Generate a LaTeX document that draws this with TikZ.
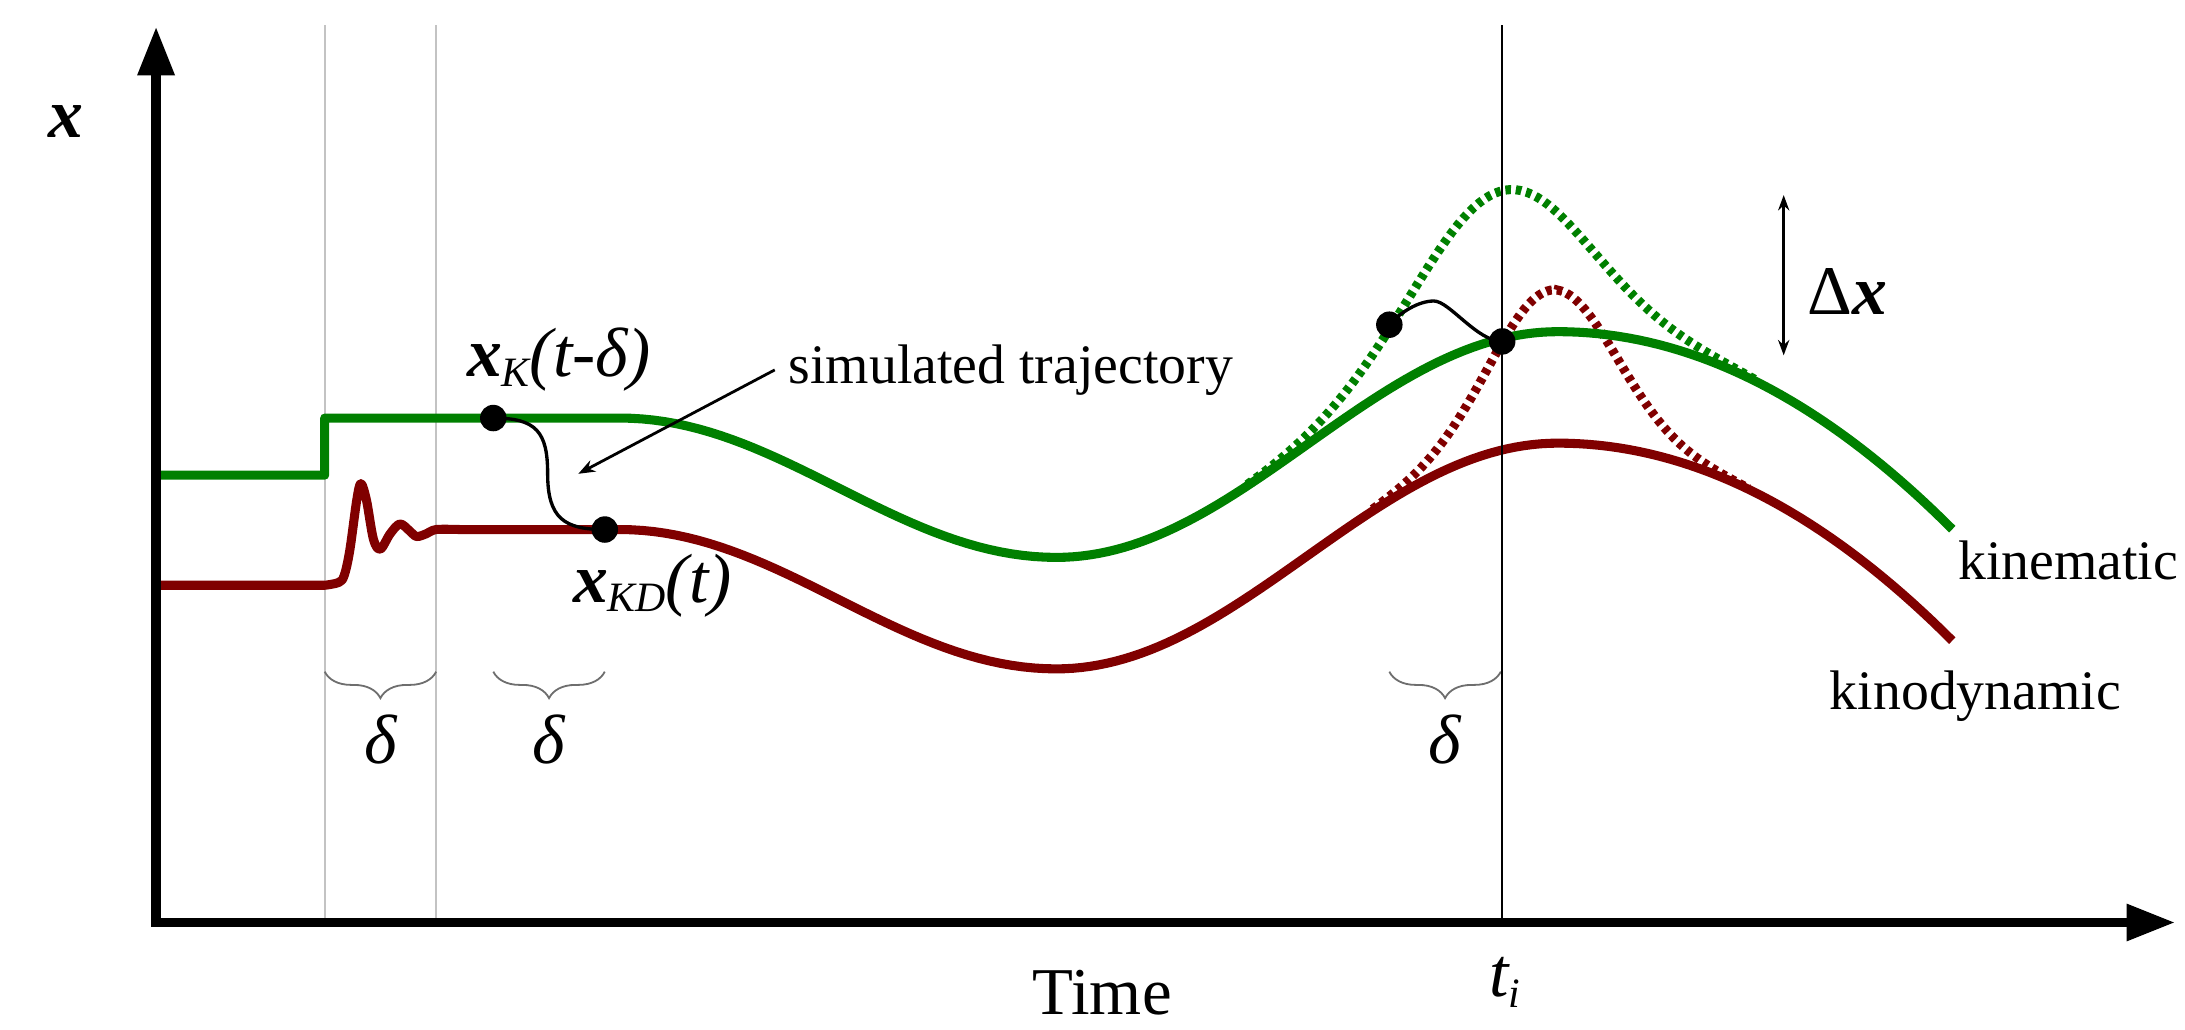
\documentclass[tikz,border=0pt]{standalone}
\usepackage{fontspec}
\setmainfont{Liberation Serif}
\usetikzlibrary{arrows.meta,decorations.pathreplacing,calc}
\definecolor{kgreen}{RGB}{0,128,0}
\definecolor{kred}{RGB}{128,0,0}
\definecolor{guide}{RGB}{195,195,195}
\definecolor{bracegray}{RGB}{110,110,110}
\begin{document}
\begin{tikzpicture}[x=1pt,y=-1pt,
  curve/.style={line width=6.5pt, line join=round},
  dotcurve/.style={line width=6.5pt, dash pattern=on 4pt off 3.5pt},
  simpath/.style={line width=2.4pt, black},
  dot/.style={circle, fill=black, inner sep=0pt, minimum size=19pt},
  guideline/.style={line width=1.5pt, guide},
  bracestyle/.style={line width=1.3pt, bracegray, decorate, decoration={brace, mirror, amplitude=19pt}},
  axis/.style={line width=7pt, line join=miter, {Triangle[length=35pt,width=25pt]}-{Triangle[length=35pt,width=25pt]}},
  txt/.style={inner sep=0pt, font=\fontsize{40}{48}\selectfont},
  mth/.style={inner sep=0pt, font=\fontsize{50}{60}\selectfont\itshape}]
\useasboundingbox (0,0) rectangle (1568,739);

% guide lines
\draw[guideline] (233,18) -- (233,662);
\draw[guideline] (313,18) -- (313,662);

% braces
\draw[bracestyle] (233,482) -- (313,482);
\draw[bracestyle] (354,482) -- (434,482);
\draw[bracestyle] (997,482) -- (1077,482);
\node[mth, anchor=base] (del1) at (273,548) {δ};
\node[mth, anchor=base] (del2) at (394,548) {δ};
\node[mth, anchor=base] (del3) at (1037,548) {δ};

% dotted (unfiltered) trajectories
\draw[dotcurve, kgreen]
  plot[domain=895:1118, samples=60] (\x, {400-81*(1-cos(180*((\x-758)/360))) - 106*exp(-((\x-1078)/85)*((\x-1078)/85))})
  -- plot[domain=1118:1260, samples=40] (\x, {238+0.001773*(\x-1118)*(\x-1118) - 106*exp(-((\x-1078)/85)*((\x-1078)/85))});
\draw[dotcurve, kred]
  plot[domain=985:1118, samples=50] (\x, {480-81*(1-cos(180*((\x-758)/360))) - 110*exp(-((\x-1115)/62)*((\x-1115)/62))})
  -- plot[domain=1118:1255, samples=50] (\x, {318+0.001773*(\x-1118)*(\x-1118) - 110*exp(-((\x-1115)/62)*((\x-1115)/62))});

% kinematic trajectory
\draw[curve, kgreen] (112,341) -- (233,341) -- (233,300) -- (445,300)
  -- plot[domain=445:758, samples=40] (\x, {300+50*(1-cos(180*((\x-445)/313)))})
  -- plot[domain=758:1118, samples=60] (\x, {400-81*(1-cos(180*((\x-758)/360)))})
  -- plot[domain=1118:1401, samples=40] (\x, {238+0.001773*(\x-1118)*(\x-1118)});

% kinodynamic trajectory
\draw[curve, kred] (112,420) -- (233,420)
  -- plot[smooth, tension=0.55] coordinates {(233,420) (243,418) (247,413) (251,395) (256,359) (259,347) (263,359) (268,387) (273,394) (280,383) (287,376) (294,381) (299,385) (306,383) (313,380) (330,380)}
  -- (445,380)
  -- plot[domain=445:758, samples=40] (\x, {380+50*(1-cos(180*((\x-445)/313)))})
  -- plot[domain=758:1118, samples=60] (\x, {480-81*(1-cos(180*((\x-758)/360)))})
  -- plot[domain=1118:1401, samples=40] (\x, {318+0.001773*(\x-1118)*(\x-1118)});

% t_i line
\draw[line width=1.6pt, black] (1078,18) -- (1078,662);

% axes
\coordinate (ytop) at (112,19);
\coordinate (org) at (112,662);
\coordinate (xend) at (1561,662);
\draw[axis] (ytop) -- (org) -- (xend);

% simulated trajectories
\node[dot] (dK) at (354,300) {};
\node[dot] (dKD) at (434,380) {};
\node[dot] (dK2) at (997,233) {};
\node[dot] (dKD2) at (1078,245) {};
\draw[simpath] (dK.center) .. controls (385,300) and (393,310) .. (393,340)
  .. controls (393,372) and (405,380) .. (dKD.center);
\draw[simpath] (dK2.center) .. controls (1005,224) and (1018,216) .. (1029,216)
  .. controls (1040,216) and (1060,245) .. (dKD2.center);

% labels
\node[mth, anchor=center] (xlab) at (47,87) {\bfseries x};
\node[mth, anchor=base west] (lxk) at (335,270) {{\bfseries x}\raisebox{-7pt}{\fontsize{30}{30}\selectfont K}(t-δ)};
\node[mth, anchor=base west] (lxkd) at (411,432) {{\bfseries x}\raisebox{-7pt}{\fontsize{30}{30}\selectfont KD}(t)};
\node[txt, anchor=base west, outer sep=10pt] (simlab) at (556,275) {simulated trajectory};
\coordinate (simtip) at (415,340);
\draw[line width=2pt, -{Stealth[length=12pt,width=9pt]}] (simlab.west) -- (simtip);

\coordinate (dxtop) at (1280,140);
\coordinate (dxbot) at (1280,255);
\draw[line width=2.2pt, {Stealth[length=11pt,width=8pt]}-{Stealth[length=11pt,width=8pt]}] (dxtop) -- (dxbot);
\node[mth, anchor=base west] (dxlab) at (1297,226) {{\upshape Δ}{\bfseries x}};

\node[txt, anchor=base west] (kin) at (1405,416) {kinematic};
\node[txt, anchor=base west] (kdyn) at (1313,509) {kinodynamic};
\node[inner sep=0pt, font=\fontsize{48}{56}\selectfont, anchor=base west] (time) at (741,728) {Time};
\node[mth, anchor=base] (ti) at (1080,715) {t\raisebox{-8pt}{\fontsize{30}{30}\selectfont i}};
\end{tikzpicture}
\end{document}
